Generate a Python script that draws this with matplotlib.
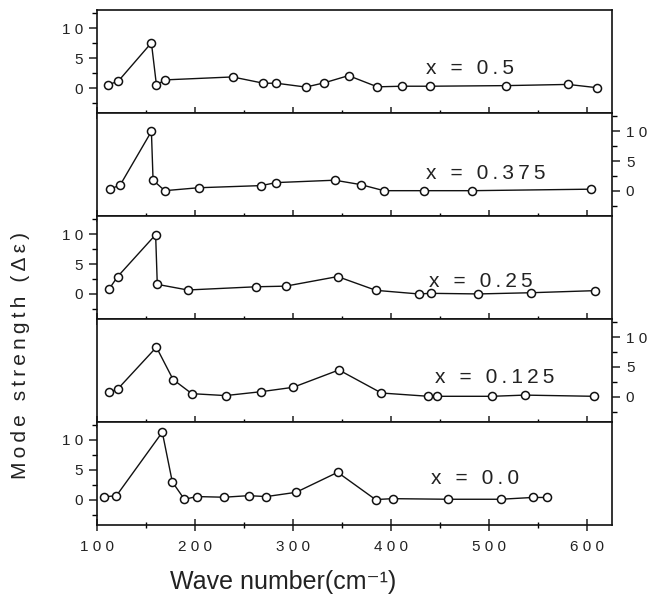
import matplotlib.pyplot as plt
from matplotlib.ticker import MultipleLocator, FuncFormatter

plt.rcParams['font.family'] = ['Liberation Sans', 'DejaVu Sans']

# данные (волновое число, сила моды)
wn_05 = [111, 121.6, 155.6, 160.7, 169.7, 238.3, 269.8, 283, 313, 331.8, 356.5, 385.8, 411.3, 439.7, 516.6, 580.3, 610]
ms_05 = [0.54, 1.1, 7.55, 0.54, 1.36, 1.85, 0.8, 0.8, 0.16, 0.87, 2.07, 0.2, 0.3, 0.3, 0.4, 0.6, 0.05]

wn_0375 = [113, 123.8, 155.6, 157.3, 169.2, 203.6, 267.7, 282.6, 342.5, 368.8, 392.6, 433.4, 482.6, 603.2]
ms_0375 = [0.27, 1.0, 9.95, 1.8, 0.05, 0.54, 0.9, 1.4, 1.8, 1.07, 0.05, 0.05, 0.05, 0.3]

wn_025 = [112.7, 121.2, 159.9, 161.6, 192.6, 262.7, 292.4, 345.4, 384.5, 427.9, 440.6, 488.9, 542, 607.9]
ms_025 = [0.87, 2.9, 9.9, 1.6, 0.66, 1.2, 1.3, 2.9, 0.6, 0.0, 0.1, 0.0, 0.2, 0.55]

wn_0125 = [111.9, 121.2, 160.7, 177.7, 196.8, 231.2, 266.9, 300, 346.7, 390, 438, 446.5, 503, 536, 606.6]
ms_0125 = [0.76, 1.3, 8.3, 2.9, 0.54, 0.22, 0.86, 1.6, 4.5, 0.65, 0.1, 0.1, 0.1, 0.3, 0.1]

wn_00 = [107.6, 120, 166.7, 176.9, 189.2, 201.9, 229.5, 254.6, 272.8, 303, 345.4, 384, 401.5, 458, 511.5, 544.2, 559]
ms_00 = [0.5, 0.7, 11.3, 3.0, 0.1, 0.55, 0.44, 0.7, 0.55, 1.26, 4.6, 0.05, 0.2, 0.1, 0.1, 0.4, 0.4]

labels = ['x = 0.5', 'x = 0.375', 'x = 0.25', 'x = 0.125', 'x = 0.0']
series = [(wn_05, ms_05), (wn_0375, ms_0375), (wn_025, ms_025), (wn_0125, ms_0125), (wn_00, ms_00)]

# где стоят подписи x = ...
label_x = [435, 435, 439, 445, 441]
label_y = [3.2, 3.0, 2.0, 3.3, 3.5]

THIN = '\u2009'


def spaced(s):
    return THIN.join(s)


def spaced_num(v, p):
    return ' '.join(str(int(round(v))))


fig, axes = plt.subplots(5, 1, sharex=True, figsize=(6.5, 6.0), dpi=100)
fig.subplots_adjust(left=0.149, right=0.9415, top=0.983, bottom=0.125, hspace=0)

for i, ax in enumerate(axes):
    x, y = series[i]
    ax.plot(x, y, '-o', color='#111111', lw=1.0, ms=5.8,
            mfc='white', mec='#111111', mew=1.1)
    ax.set_xlim(100, 625)
    ax.set_ylim(-4.2, 13)

    ax.xaxis.set_major_locator(MultipleLocator(100))
    ax.xaxis.set_minor_locator(MultipleLocator(50))
    ax.yaxis.set_major_locator(MultipleLocator(5))
    ax.yaxis.set_minor_locator(MultipleLocator(2.5))

    ax.tick_params(axis='x', which='major', direction='inout', length=9, width=1.1,
                   top=False, bottom=True, labelsize=11, pad=6, colors='#222222')
    ax.tick_params(axis='x', which='minor', direction='inout', length=5, width=1,
                   top=False, bottom=True)

    if i % 2 == 1:
        ax.yaxis.tick_right()
    ax.tick_params(axis='y', which='major', direction='out', length=6, width=1.1,
                   labelsize=11, pad=4, colors='#222222')
    ax.tick_params(axis='y', which='minor', direction='out', length=3.5, width=1)
    ax.yaxis.set_major_formatter(FuncFormatter(spaced_num))
    ax.xaxis.set_major_formatter(FuncFormatter(spaced_num))

    for sp in ax.spines.values():
        sp.set_linewidth(1.2)
        sp.set_color('#111111')

    ax.text(label_x[i], label_y[i], spaced(labels[i]), fontsize=15,
            va='center', ha='left', color='#222222')

fig.text(0.032, 0.407, spaced('Mode strength (Δε)'), rotation=90, fontsize=15,
         va='center', ha='center', color='#222222')
fig.text(0.435, 0.03, 'Wave number(cm⁻¹)', fontsize=18,
         va='center', ha='center', color='#222222')

fig.savefig('out.png', dpi=100)
